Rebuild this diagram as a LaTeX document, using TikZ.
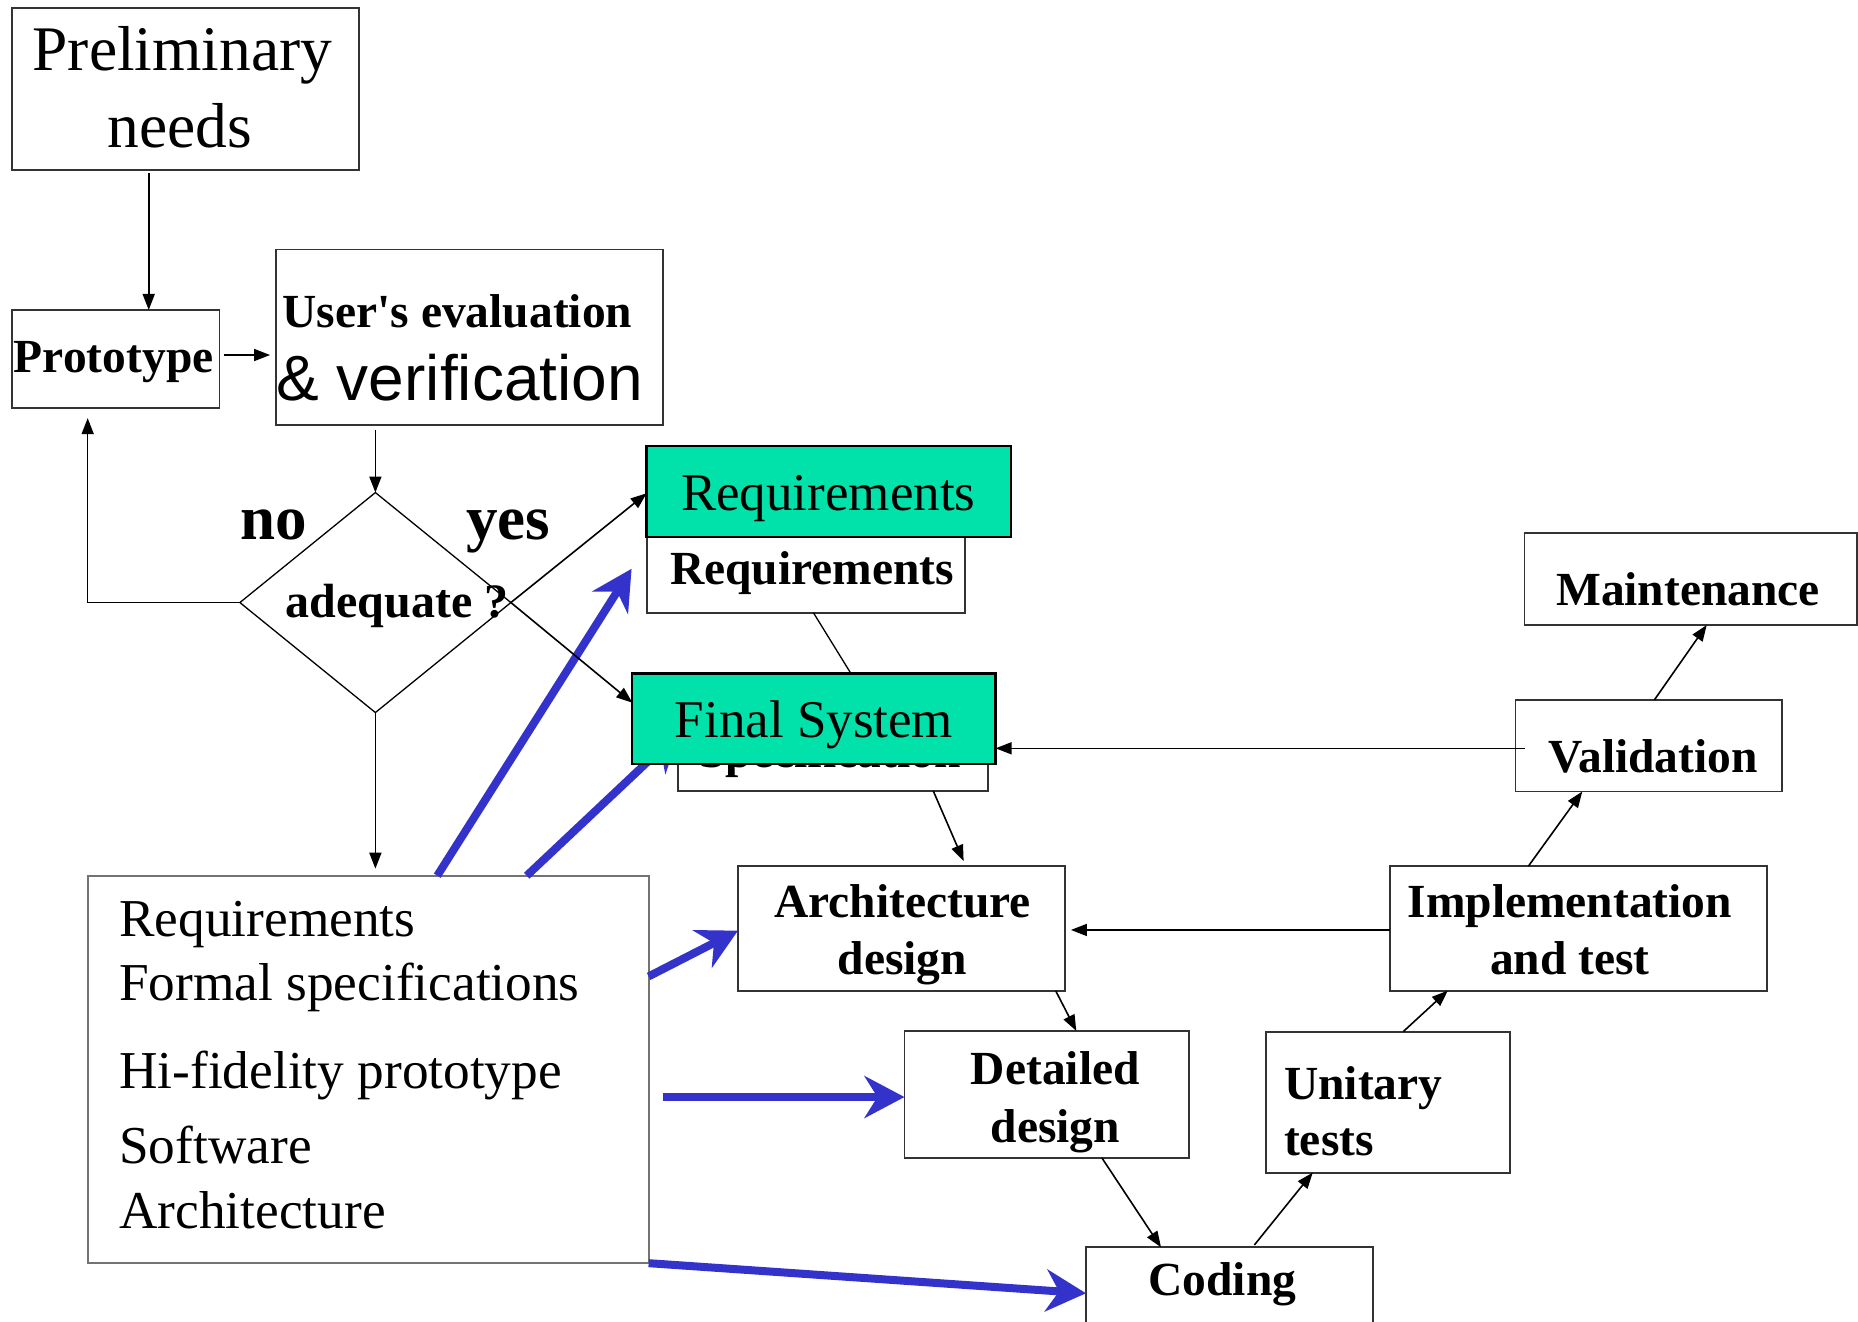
\documentclass[tikz,border=0pt]{standalone}
\usepackage{fontspec}
\setmainfont{Liberation Serif}[Ligatures=TeXOff]
\newfontfamily\arialf{Liberation Sans}
\usetikzlibrary{arrows.meta,shapes.geometric,fit}
\definecolor{mint}{RGB}{0,226,170}
\definecolor{arrowblue}{RGB}{51,51,204}
\begin{document}
\begin{tikzpicture}[x=1.185pt,y=-1.185pt,
  box/.style={draw=black!80, line width=1.8pt, fill=white, inner sep=0pt, outer sep=0pt},
  graybox/.style={box, draw=black!55},
  gbox/.style={draw=black, line width=2.4pt, fill=mint, inner sep=0pt, outer sep=0pt},
  lbl/.style={inner sep=0pt, anchor=base, font=\fontsize{47.5}{59}\selectfont\bfseries},
  rlbl/.style={inner sep=0pt, anchor=base, font=\fontsize{53}{62}\selectfont},
  biglbl/.style={inner sep=0pt, anchor=base west, font=\fontsize{53.3}{62}\selectfont},
  arr/.style={line width=1.6pt, -{Triangle[length=16pt,width=12pt]}},
  plainline/.style={line width=1.3pt},
  blu/.style={draw=arrowblue, line width=8pt, -{Stealth[length=40pt,width=42pt,inset=13pt]}},
]
\useasboundingbox (0,0) rectangle (1568,1115);
\clip (0,0) rectangle (1568,1115);
\fill[white] (0,0) rectangle (1568,1115);

% big box
\node[graybox, fit={(74,739) (547.4,1066)}] (big) {};
\node[biglbl] (bl1) at (100.5,790.5) {Requirements};
\node[biglbl] (bl2) at (100.5,844) {Formal specifications};
\node[biglbl] (bl3) at (100.5,919) {Hi-fidelity prototype};
\node[biglbl] (bl4) at (100.5,981.6) {Software};
\node[biglbl] (bl5) at (100.5,1036.5) {Architecture};

% other boxes
\node[box, fit={(10,7) (303,143.5)}] (prelim) {};
\node[rlbl, font=\fontsize{63.5}{75}\selectfont] (tp1) at (154,59.5) {Preliminary};
\node[rlbl, font=\fontsize{63.5}{75}\selectfont] (tp2) at (152,124.3) {needs};

\node[box, fit={(10,261.6) (185.3,344)}] (proto) {};
\node[lbl] (tproto) at (96,314.3) {Prototype};

\node[box, fit={(233,210.5) (559.5,358.6)}] (user) {};
\node[lbl] (tuser1) at (386,276.4) {User's evaluation};
\node[inner sep=0pt, anchor=base, font=\arialf\fontsize{64}{74}\selectfont] (tuser2) at (388,338) {\& verification};

\node[draw, line width=1.3pt, diamond, inner sep=0pt, outer sep=0pt,
      minimum width=271pt, minimum height=220pt] (dia) at (316.8,508.5) {};
\node[lbl, font=\fontsize{48}{58}\selectfont\bfseries] (tadq) at (335.3,521) {adequate ?};
\node[lbl, font=\fontsize{63}{72}\selectfont\bfseries] (tno) at (230.7,455.5) {no};
\node[lbl, font=\fontsize{63}{72}\selectfont\bfseries] (tyes) at (428.9,455.5) {yes};

\node[box, fit={(622.8,730.5) (898.7,836.3)}] (arch) {};
\node[lbl] (ta1) at (761.6,774.3) {Architecture};
\node[lbl] (ta2) at (761.6,822) {design};

\node[box, fit={(763.3,870) (1003.6,977)}] (det) {};
\node[lbl] (td1) at (890.6,914.8) {Detailed};
\node[lbl] (td2) at (890.6,964) {design};

\node[box, fit={(916.5,1052.6) (1159,1140)}] (cod) {};
\node[lbl] (tcod) at (1031.5,1093.4) {Coding};

\node[box, fit={(1068.4,870.6) (1274.3,989.6)}] (unit) {};
\node[lbl, anchor=base west] (tu1) at (1083.5,927.5) {Unitary};
\node[lbl, anchor=base west] (tu2) at (1083.5,975.3) {tests};

\node[box, fit={(1173,731) (1491,836)}] (impl) {};
\node[lbl] (ti1) at (1324.8,774.3) {Implementation};
\node[lbl] (ti2) at (1324.8,822) {and test};

\node[box, fit={(1279,590.7) (1504,668)}] (valid) {};
\node[lbl] (tval) at (1395,651.8) {Validation};

\node[box, fit={(1286.5,450) (1567,527.5)}] (maint) {};
\node[lbl] (tmain) at (1424.6,511.2) {Maintenance};

% blue arrows
\coordinate (b1end) at (533,480);
\coordinate (b2end) at (574,617);
\draw[blu] (big.north -| 369,0) -- (b1end);
\draw[blu] (big.north -| 444.5,0) -- (b2end);
\draw[blu] (big.east |- 0,824) -- (arch.west |- 0,785.4);
\draw[blu] ([xshift=14.3pt]big.east |- 0,925.8) -- (det.west |- 0,925.8);
\draw[blu] (big.south east) -- (cod.west |- 0,1091.4);

% requirements / specification stack
\node[box, fit={(546.3,453.4) (814.6,517)}] (wreq) {};
\node[lbl] (twreq) at (685.3,493) {Requirements};
\node[gbox, fit={(545.7,376.4) (853,453.4)}] (greq) {};
\node[rlbl] (tgreq) at (699,431) {Requirements};

\node[box, fit={(572,590) (833.5,667.5)}] (spec) {};
\node[lbl] (tspec) at (700.5,648) {Specification};
\node[gbox, fit={(533.6,568.2) (840.2,644.7)}] (final) {};
\node[rlbl] (tfinal) at (687,622.3) {Final System};

% black connectors
\draw[arr, shorten <=3pt] (prelim.south -| 125.5,0) -- (proto.north -| 125.5,0);
\draw[arr, shorten <=4pt, shorten >=6pt] (proto.east |- 0,299.6) -- (user.west |- 0,299.6);
\draw[arr, shorten <=5pt] (user.south -| dia.north) -- (dia.north);
\draw[arr, shorten >=10.5pt] (dia.west) -- (dia.west -| 74,0) -- (proto.south -| 74,0);
\draw[arr] (dia.east) -- (greq.west |- 0,416.3);
\draw[arr] (dia.east) -- (final.west |- 0,593);
\draw[arr, shorten >=7pt] (dia.south) -- (big.north -| dia.south);
\draw[plainline] (wreq.south -| 686.4,0) -- (final.north -| 718,0);
\draw[arr, shorten >=5pt] (spec.south -| 787.6,0) -- (arch.north -| 814.9,0);
\draw[arr] (arch.south -| 891,0) -- (det.north -| 908.3,0);
\draw[arr] (det.south -| 929.8,0) -- (cod.north -| 979.8,0);
\draw[arr, shorten <=3pt] (cod.north -| 1057,0) -- (unit.south -| 1107.8,0);
\draw[arr] (unit.north -| 1184.2,0) -- (impl.south -| 1221.8,0);
\draw[arr, shorten >=6pt] (impl.west |- 0,784.8) -- (arch.east |- 0,784.8);
\draw[arr] (impl.north -| 1289.8,0) -- (valid.south -| 1335.3,0);
\draw[arr] ([xshift=9.5pt]valid.west |- 0,631.5) -- (final.east |- 0,631.5);
\draw[arr] (valid.north -| 1396.1,0) -- (maint.south -| 1440.3,0);
\end{tikzpicture}
\end{document}
